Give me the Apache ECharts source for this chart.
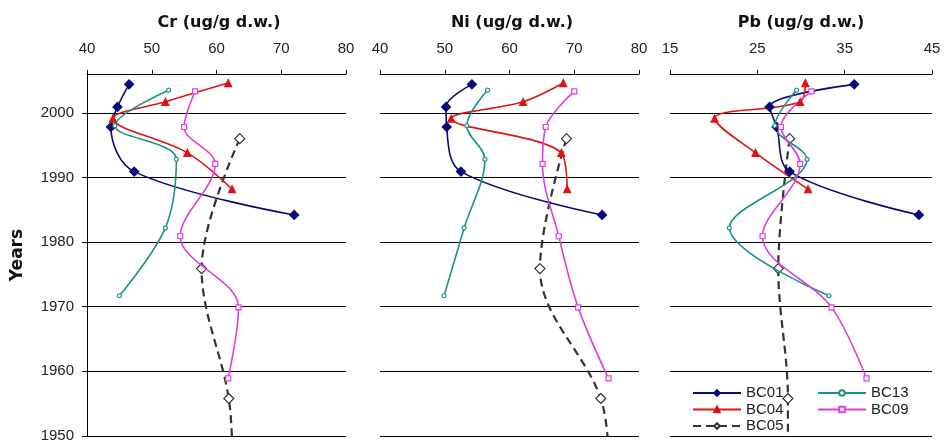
<!DOCTYPE html>
<html>
<head>
<meta charset="utf-8">
<script src="https://cdn.jsdelivr.net/npm/echarts@6/dist/echarts.min.js"></script>
<style>
html,body{margin:0;padding:0;background:#fff;}
#c{width:945px;height:448px;}
</style>
</head>
<body>
<div id="c"></div>
<script>
// ---- data ----
const stations = ['BC01', 'BC04', 'BC05', 'BC13', 'BC09'];
const panelTitles = ['Cr (ug/g d.w.)', 'Ni (ug/g d.w.)', 'Pb (ug/g d.w.)'];
const yearTicks = [1950, 1960, 1970, 1980, 1990, 2000];
const crTicks = [40, 50, 60, 70, 80];
const niTicks = [40, 50, 60, 70, 80];
const pbTicks = [15, 25, 35, 45];

const years_BC01 = [2004.4, 2000.9, 1997.8, 1990.9, 1984.2];
const cr_BC01 = [46.5, 44.7, 43.7, 47.3, 72.0];
const ni_BC01 = [54.2, 50.2, 50.3, 52.5, 74.3];
const pb_BC01 = [36.1, 26.4, 27.2, 28.7, 43.5];

const years_BC04 = [2004.6, 2001.7, 1999.1, 1993.8, 1988.2];
const cr_BC04 = [61.8, 52.1, 44.0, 55.5, 62.4];
const ni_BC04 = [68.3, 62.1, 51.0, 68.0, 68.9];
const pb_BC04 = [30.5, 29.9, 20.1, 24.8, 30.8];

const years_BC13 = [2003.5, 1998.0, 1992.8, 1982.2, 1971.7];
const cr_BC13 = [52.6, 44.3, 53.8, 52.1, 45.0];
const ni_BC13 = [56.6, 53.4, 56.2, 53.0, 49.9];
const pb_BC13 = [29.5, 27.0, 30.7, 21.8, 33.2];

const years_BC09 = [2003.3, 1997.8, 1992.1, 1980.9, 1969.9, 1958.9];
const cr_BC09 = [56.7, 55.0, 59.8, 54.4, 63.4, 61.8];
const ni_BC09 = [70.0, 65.6, 65.1, 67.6, 70.6, 75.3];
const pb_BC09 = [31.2, 27.7, 29.9, 25.6, 33.5, 37.5];

const years_BC05 = [1996.0, 1975.9, 1955.8, 1945.0];
const cr_BC05 = [63.6, 57.7, 61.9, 62.5];
const ni_BC05 = [68.8, 64.7, 74.1, 75.4];
const pb_BC05 = [28.7, 27.4, 28.5, 28.5];

// ---- assembly ----
const dataByStation = {
  BC01: {years: years_BC01, vals: [cr_BC01, ni_BC01, pb_BC01]},
  BC04: {years: years_BC04, vals: [cr_BC04, ni_BC04, pb_BC04]},
  BC05: {years: years_BC05, vals: [cr_BC05, ni_BC05, pb_BC05]},
  BC13: {years: years_BC13, vals: [cr_BC13, ni_BC13, pb_BC13]},
  BC09: {years: years_BC09, vals: [cr_BC09, ni_BC09, pb_BC09]}
};
const styleByStation = {
  BC01: {color: '#0a0a78', symbol: 'diamond', size: 9, fill: '#0a0a78', width: 1.6, type: 'solid'},
  BC04: {color: '#dd1414', symbol: 'triangle', size: 7, fill: '#dd1414', width: 1.6, type: 'solid'},
  BC05: {color: '#333333', symbol: 'diamond', size: 10, fill: '#ffffff', width: 2.2, type: [8, 5]},
  BC13: {color: '#1b9286', symbol: 'circle', size: 4, fill: '#ffffff', width: 1.6, type: 'solid'},
  BC09: {color: '#e03ce0', symbol: 'rect', size: 5, fill: '#ffffff', width: 1.6, type: 'solid'}
};

const FONT = "'Liberation Sans', Arial, sans-serif";
const BOLD_FONT = "'DejaVu Sans', sans-serif";
const gridLefts = [87, 380, 670];
const gridWidths = [259, 259, 262];
const xRanges = [[40, 80], [40, 80], [15, 45]];
const xTickSets = [crTicks, niTicks, pbTicks];
const titleCenters = [214, 507, 796];

const grids = [], xAxes = [], yAxes = [], series = [], titles = [];
for (let p = 0; p < 3; p++) {
  grids.push({left: gridLefts[p], width: gridWidths[p], top: 74, bottom: 12, containLabel: false});
  xAxes.push({
    type: 'value', gridIndex: p, position: 'top',
    min: xRanges[p][0], max: xRanges[p][1],
    axisLine: {show: true, onZero: false, lineStyle: {color: '#000', width: 1}},
    axisTick: {show: true, inside: false, length: 4, customValues: xTickSets[p], lineStyle: {color: '#000'}},
    axisLabel: {show: true, margin: 18, customValues: xTickSets[p], color: '#222',
      fontFamily: FONT, fontSize: 15, formatter: function (v) { return String(v); }},
    splitLine: {show: false}
  });
  yAxes.push({
    type: 'value', gridIndex: p, min: 1950, max: 2006,
    name: p === 0 ? 'Years' : '', nameLocation: 'middle', nameRotate: 90, nameGap: 61,
    nameTextStyle: {fontFamily: BOLD_FONT, fontWeight: 'bold', fontSize: 17, color: '#111'},
    axisLine: {show: p === 0, onZero: false, lineStyle: {color: '#000', width: 1}},
    axisTick: {show: p === 0, length: 5, customValues: yearTicks, lineStyle: {color: '#000'}},
    axisLabel: {show: p === 0, margin: 13, customValues: yearTicks, color: '#222',
      fontFamily: FONT, fontSize: 15, formatter: function (v) { return String(v); }},
    splitLine: {show: true, lineStyle: {color: '#000', width: 1}}
  });
  titles.push({
    text: panelTitles[p], left: titleCenters[p], top: 10, textAlign: 'center',
    textStyle: {fontFamily: BOLD_FONT, fontWeight: 'bold', fontSize: 16, color: '#111'}
  });
  stations.forEach(function (s) {
    const d = dataByStation[s], st = styleByStation[s];
    const pts = d.years.map(function (y, i) { return [d.vals[p][i], y]; });
    series.push({
      name: s, type: 'line', xAxisIndex: p, yAxisIndex: p,
      data: pts, smooth: 0.35, clip: true,
      symbol: st.symbol, symbolSize: st.size, showSymbol: true,
      itemStyle: {color: st.fill, borderColor: st.color, borderWidth: 1.2},
      lineStyle: {color: st.color, width: st.width, type: st.type},
      z: s === 'BC05' ? 3 : 4,
      emphasis: {disabled: true}
    });
  });
}

const legendText = {fontFamily: FONT, fontSize: 15, color: '#222', lineHeight: 16};
const chart = echarts.init(document.getElementById('c'), null, {renderer: 'canvas'});
chart.setOption({
  animation: false,
  backgroundColor: '#fff',
  title: titles,
  grid: grids,
  xAxis: xAxes,
  yAxis: yAxes,
  legend: [
    {data: ['BC01', 'BC04', 'BC05'], orient: 'vertical', left: 692, top: 385,
      itemWidth: 48, itemHeight: 7, itemGap: 0.5, padding: 0, textStyle: legendText},
    {data: ['BC13', 'BC09'], orient: 'vertical', left: 817, top: 385,
      itemWidth: 48, itemHeight: 7, itemGap: 0.5, padding: 0, textStyle: legendText}
  ],
  series: series
});
</script>
</body>
</html>
